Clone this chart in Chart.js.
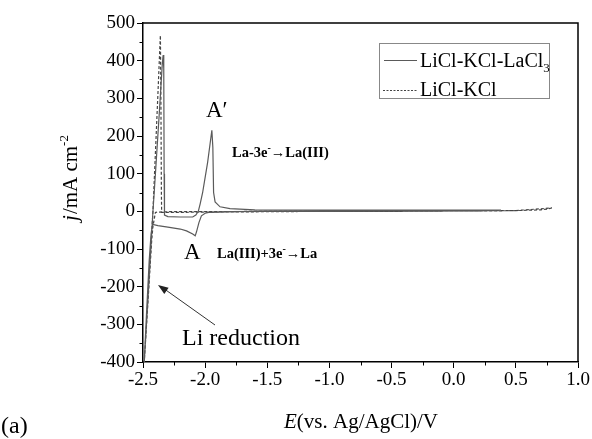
<!DOCTYPE html>
<html>
<head>
<meta charset="utf-8">
<script src="https://cdn.jsdelivr.net/npm/chart.js@4/dist/chart.umd.min.js"></script>
<style>
html,body{margin:0;padding:0;background:#fff;}
canvas{display:block;}
</style>
</head>
<body>
<canvas id="c" width="592" height="439"></canvas>
<script>
// ---- Data ----
const seriesLabels = ["LiCl-KCl-LaCl3", "LiCl-KCl"];

// LiCl-KCl-LaCl3 (solid), potential E (V) in scan order
const laE = [0.38, 0.2, 0.0, -0.5, -1.0, -1.5, -1.8, -1.9, -1.97, -2.00, -2.03, -2.05, -2.07, -2.08, -2.10, -2.15, -2.20, -2.30, -2.38, -2.42, -2.425, -2.435, -2.45, -2.47, -2.49,
             -2.46, -2.44, -2.42, -2.40, -2.37, -2.345, -2.338, -2.333, -2.33, -2.327, -2.30, -2.20, -2.10, -2.075, -2.055, -2.04, -2.02, -2.00, -1.98, -1.96, -1.946, -1.938, -1.932, -1.92, -1.88, -1.8, -1.6, -1.0, -0.5, 0.0, 0.38];
// current density j (mA cm-2)
const laJ = [3, 2, 2, 1, 0, 0, -1, -2, -3, -5, -12, -30, -55, -65, -60, -52, -47, -42, -38, -35, -38, -60, -130, -260, -400,
             -230, -115, 0, 100, 255, 390, 415, 380, 100, -10, -14, -15, -15, -10, 0, 20, 50, 90, 130, 180, 215, 170, 50, 25, 12, 7, 4, 3, 3, 3, 3];

// LiCl-KCl (dashed)
const blankE = [0.79, 0.75, 0.7, 0.6, 0.5, 0.3, 0.0, -0.5, -1.0, -1.5, -2.0, -2.3, -2.38, -2.40, -2.42, -2.43, -2.46, -2.49,
                -2.47, -2.45, -2.42, -2.40, -2.38, -2.365, -2.36, -2.356, -2.352, -2.35, -2.3, -2.0, -1.5, -1.0, -0.5, 0.0, 0.5, 0.79];
const blankJ = [9, 6, 4, 3, 2, 1, 1, 0, 0, 0, -1, -1, -2, -3, -40, -77, -240, -400,
                -290, -170, 0, 156, 311, 430, 467, 300, 50, -3, -3, -2, -1, 0, 0, 1, 2, 9];

// axis ticks
const xMin = -2.5, xMax = 1.0, xStep = 0.5, xMinorStep = 0.25;
const yMin = -400, yMax = 500, yStep = 100, yMinorStep = 50;

// ---- build points ----
const toPts = (xs, ys) => xs.map((x, i) => ({x: x, y: ys[i]}));

const SERIF = "'Liberation Serif', 'Times New Roman', serif";
Chart.defaults.font.family = SERIF;

const decor = {
  id: 'decor',
  afterDraw(chart) {
    const ctx = chart.ctx;
    const a = chart.chartArea;
    const xs = chart.scales.x, ys = chart.scales.y;
    ctx.save();
    // frame top & right
    ctx.strokeStyle = '#000';
    ctx.lineWidth = 1.5;
    ctx.beginPath();
    ctx.moveTo(a.left, a.top); ctx.lineTo(a.right, a.top); ctx.lineTo(a.right, a.bottom);
    ctx.stroke();
    // minor ticks
    ctx.lineWidth = 1;
    ctx.beginPath();
    for (let v = yMin + yMinorStep; v < yMax; v += yStep) {
      const p = Math.round(ys.getPixelForValue(v)) + 0.5;
      ctx.moveTo(a.left, p); ctx.lineTo(a.left - 3.5, p);
    }
    for (let v = xMin + xMinorStep; v < xMax; v += xStep) {
      const p = Math.round(xs.getPixelForValue(v)) + 0.5;
      ctx.moveTo(p, a.bottom); ctx.lineTo(p, a.bottom + 3.5);
    }
    ctx.stroke();

    ctx.fillStyle = '#000';
    ctx.textBaseline = 'alphabetic';
    ctx.textAlign = 'left';

    // Y axis title (rotated)
    ctx.save();
    ctx.translate(77, 178);
    ctx.rotate(-Math.PI / 2);
    const f1 = 'italic 21px ' + SERIF, f2 = '21px ' + SERIF, f3 = '13px ' + SERIF;
    ctx.font = f1; const wj = ctx.measureText('j').width;
    ctx.font = f2; const wm = ctx.measureText('/mA cm').width;
    ctx.font = f3; const ws = ctx.measureText('-2').width;
    let sx = -(wj + wm + ws + 1) / 2;
    ctx.font = f1; ctx.fillText('j', sx, 0); sx += wj + 1;
    ctx.font = f2; ctx.fillText('/mA cm', sx, 0); sx += wm;
    ctx.font = f3; ctx.fillText('-2', sx, -9);
    ctx.restore();

    // X axis title
    ctx.font = 'italic 21px ' + SERIF;
    const wE = ctx.measureText('E').width;
    ctx.font = '21px ' + SERIF;
    const wR = ctx.measureText('(vs. Ag/AgCl)/V').width;
    let tx = 361 - (wE + wR) / 2;
    ctx.font = 'italic 21px ' + SERIF; ctx.fillText('E', tx, 428);
    ctx.font = '21px ' + SERIF; ctx.fillText('(vs. Ag/AgCl)/V', tx + wE, 428);

    // panel label
    ctx.font = '24px ' + SERIF;
    ctx.fillText('(a)', 1, 433);

    // peak labels
    ctx.font = '23px ' + SERIF;
    ctx.fillText('A\u2032', 206, 117);
    ctx.fillText('A', 184, 259);

    // reaction labels (bold, with superscript)
    function react(parts, x, y) {
      let cx = x;
      for (const [t, sup] of parts) {
        ctx.font = sup ? 'bold 10px ' + SERIF : 'bold 14.5px ' + SERIF;
        ctx.fillText(t, cx, sup ? y - 6 : y);
        cx += ctx.measureText(t).width;
      }
    }
    react([['La-3e', false], ['-', true], ['\u2192La(III)', false]], 232, 157);
    react([['La(III)+3e', false], ['-', true], ['\u2192La', false]], 217, 258);

    // Li reduction label & arrow
    ctx.font = '24px ' + SERIF;
    ctx.fillText('Li reduction', 182, 345);
    ctx.strokeStyle = '#333';
    ctx.lineWidth = 1;
    ctx.beginPath(); ctx.moveTo(215, 325); ctx.lineTo(163, 288); ctx.stroke();
    const ang = Math.atan2(285 - 325, 158 - 215);
    ctx.fillStyle = '#222';
    ctx.beginPath();
    ctx.moveTo(158, 285);
    ctx.lineTo(158 - 11 * Math.cos(ang - 0.35), 285 - 11 * Math.sin(ang - 0.35));
    ctx.lineTo(158 - 11 * Math.cos(ang + 0.35), 285 - 11 * Math.sin(ang + 0.35));
    ctx.closePath(); ctx.fill();

    // legend
    ctx.strokeStyle = '#888';
    ctx.lineWidth = 1;
    ctx.strokeRect(379.5, 43.5, 170, 55);
    ctx.strokeStyle = chart.data.datasets[0].borderColor;
    ctx.lineWidth = 1.2;
    ctx.beginPath(); ctx.moveTo(384, 60.5); ctx.lineTo(417, 60.5); ctx.stroke();
    ctx.strokeStyle = chart.data.datasets[1].borderColor;
    ctx.setLineDash([2, 1.5]);
    ctx.beginPath(); ctx.moveTo(383, 90.5); ctx.lineTo(417, 90.5); ctx.stroke();
    ctx.setLineDash([]);
    ctx.fillStyle = '#000';
    ctx.font = '20px ' + SERIF;
    const l1 = 'LiCl-KCl-LaCl';
    ctx.fillText(l1, 420, 67);
    const w1 = ctx.measureText(l1).width;
    ctx.font = '13px ' + SERIF;
    ctx.fillText('3', 420 + w1, 72);
    ctx.font = '20px ' + SERIF;
    ctx.fillText(seriesLabels[1], 420, 96);
    ctx.restore();
  }
};

new Chart(document.getElementById('c'), {
  type: 'scatter',
  data: {
    datasets: [
      {
        label: seriesLabels[0],
        data: toPts(laE, laJ),
        showLine: true,
        borderColor: '#5a5a5a',
        borderWidth: 1.2,
        pointRadius: 0,
        tension: 0,
        fill: false
      },
      {
        label: seriesLabels[1],
        data: toPts(blankE, blankJ),
        showLine: true,
        borderColor: '#444',
        borderWidth: 1.2,
        borderDash: [3, 2],
        pointRadius: 0,
        tension: 0,
        fill: false
      }
    ]
  },
  options: {
    responsive: false,
    animation: false,
    layout: { padding: { left: 0, top: 23, right: 14, bottom: 0 } },
    plugins: { legend: { display: false }, tooltip: { enabled: false } },
    scales: {
      x: {
        type: 'linear',
        min: xMin, max: xMax,
        afterFit(s) { s.height = 77; },
        ticks: {
          stepSize: xStep,
          color: '#000',
          font: { family: SERIF, size: 19 },
          padding: 1,
          maxRotation: 0,
          callback: v => Number(v).toFixed(1)
        },
        grid: { drawOnChartArea: false, tickLength: 6, color: '#000', lineWidth: 1 },
        border: { display: true, color: '#000', width: 1.5 }
      },
      y: {
        type: 'linear',
        min: yMin, max: yMax,
        afterFit(s) { s.width = 143; },
        ticks: {
          stepSize: yStep,
          color: '#000',
          font: { family: SERIF, size: 19 },
          padding: 2,
          callback: v => String(Math.round(v))
        },
        grid: { drawOnChartArea: false, tickLength: 6, color: '#000', lineWidth: 1 },
        border: { display: true, color: '#000', width: 1.5 }
      }
    }
  },
  plugins: [decor]
});
</script>
</body>
</html>
